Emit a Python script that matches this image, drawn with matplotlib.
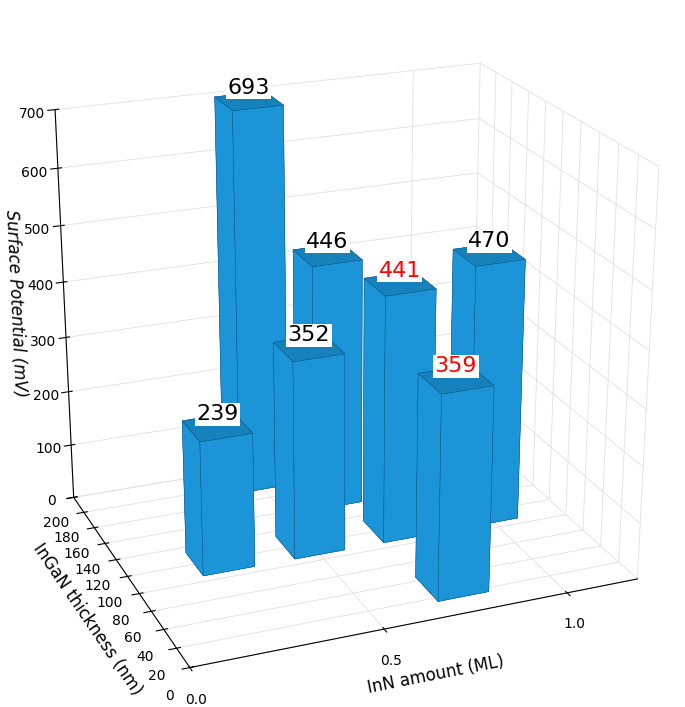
import matplotlib
matplotlib.use("Agg")
import matplotlib.pyplot as plt
import numpy as np

inn = [0.25, 0.5, 0.75, 0.75, 1.0, 0.5, 0.65]
thick = [100, 100, 100, 30, 100, 185, 150]
pot = [239, 352, 441, 359, 470, 693, 446]
red = [False, False, True, True, False, False, False]

fig = plt.figure(figsize=(6.85, 7.07), dpi=100)
ax = fig.add_axes([-0.04, -0.03, 1.06, 1.06], projection='3d')
ax.view_init(elev=22, azim=-112)
ax.set_proj_type('persp', focal_length=0.6)
dx, dy = 0.14, 28
ax.bar3d(np.array(inn) - dx/2, np.array(thick) - dy/2, np.zeros(len(pot)),
         dx, dy, pot, color='#1ea8f5', shade=True, edgecolor='#0a5a90', linewidth=0.3)
for x, y, z, r in zip(inn, thick, pot, red):
    ax.text(x, y, z + 5, str(z), fontsize=16, ha='center', va='bottom', zorder=100,
            color='red' if r else 'black',
            bbox=dict(facecolor='white', edgecolor='none', pad=1))
ax.set_xlim(0, 1.2)
ax.set_ylim(0, 200)
ax.set_zlim(0, 700)
ax.set_xticks([0.0, 0.5, 1.0])
ax.set_xticklabels(['0.0', '0.5', '1.0'])
ax.set_yticks(range(0, 201, 20))
ax.set_zticks(range(0, 701, 100))
ax.set_xlabel('InN amount (ML)', fontsize=12)
ax.set_ylabel('InGaN thickness (nm)', fontsize=12)
ax.set_zlabel('Surface Potential (mV)', fontsize=12, fontstyle='italic')
ax.zaxis.set_ticks_position('upper')
ax.zaxis.set_label_position('upper')
for a in (ax.xaxis, ax.yaxis, ax.zaxis):
    a.set_pane_color((1, 1, 1, 1))
    a._axinfo['grid']['color'] = (0.88, 0.88, 0.88, 1)
    a._axinfo['grid']['linewidth'] = 0.6
ax.set_box_aspect((1.2, 1.0, 1.1))
fig.savefig('out.png', dpi=100)
